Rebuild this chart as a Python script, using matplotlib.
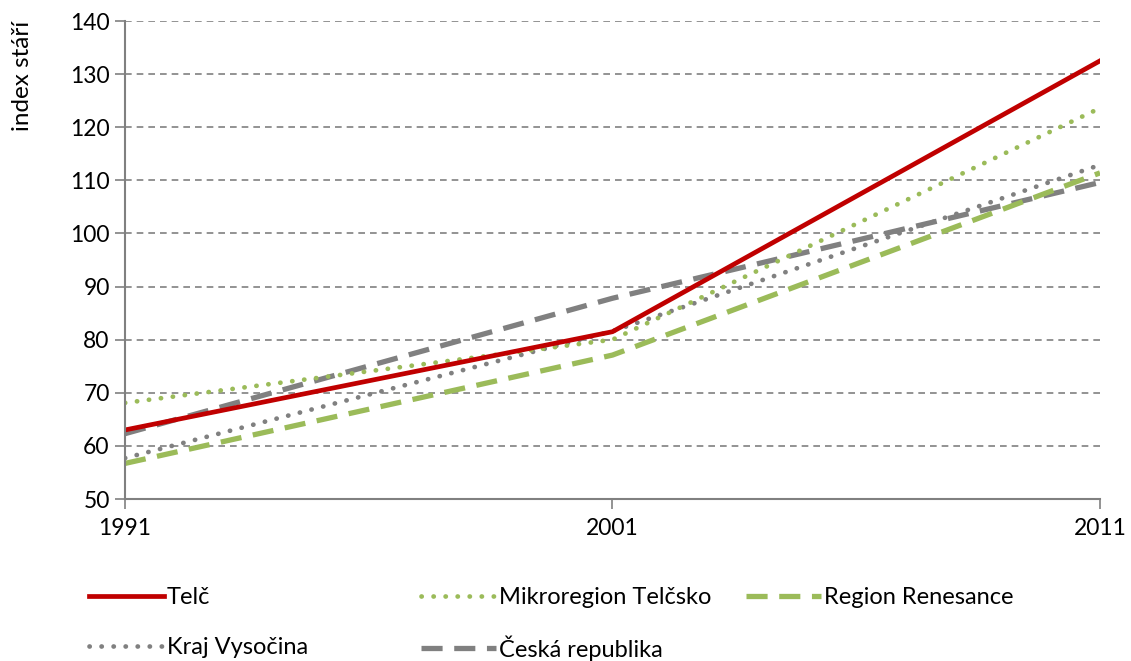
import matplotlib
matplotlib.use("Agg")
import matplotlib.pyplot as plt
from matplotlib.lines import Line2D

plt.rcParams['font.family'] = ['Lato', 'DejaVu Sans']

# data
years = [1991, 2001, 2011]
telc = [63.0, 81.5, 132.5]
mikroregion = [68.1, 80.0, 123.6]
renesance = [56.7, 77.1, 111.4]
vysocina = [57.7, 81.6, 112.9]
cr = [62.3, 87.8, 109.6]

red = '#C00000'
green = '#9BBB59'
grey = '#808080'

fig = plt.figure(figsize=(11.31, 6.61), dpi=100)
ax = fig.add_axes([125/1131, 1-499/661, (1100-125)/1131, (499-21)/661])

dot = (0, (0.05, 2.5))
dash = (4, 2.2)

ax.plot(years, cr, color=grey, lw=3.8, dashes=dash, label='Česká republika')
ax.plot(years, renesance, color=green, lw=3.8, dashes=dash, label='Region Renesance')
ax.plot(years, vysocina, color=grey, lw=3.4, ls=dot, dash_capstyle='round', label='Kraj Vysočina')
ax.plot(years, mikroregion, color=green, lw=3.4, ls=dot, dash_capstyle='round', label='Mikroregion Telčsko')
ax.plot(years, telc, color=red, lw=3.4, label='Telč')

ax.set_xlim(1991, 2011)
ax.set_ylim(50, 140)
ax.set_xticks(years)
ax.set_yticks(range(50, 141, 10))
ax.yaxis.grid(True, color=grey, ls=(0, (4, 3)), lw=1.2)
ax.set_axisbelow(True)
for s in ['top', 'right']:
    ax.spines[s].set_visible(False)
for s in ['left', 'bottom']:
    ax.spines[s].set_color(grey)
    ax.spines[s].set_linewidth(1.5)
ax.tick_params(axis='y', length=7, width=1.2, color=grey, labelsize=16.5, pad=4)
ax.tick_params(axis='x', length=7, width=1.2, color=grey, labelsize=16.5, pad=7)
ax.set_ylabel('index stáří', fontsize=17.5)
ax.yaxis.set_label_coords(-0.094, 0.885)

# legend entries placed one by one
entries = [
    ('Telč', dict(color=red, lw=3.4), 88, 598),
    ('Mikroregion Telčsko', dict(color=green, lw=3.4, ls=dot, dash_capstyle='round'), 420, 598),
    ('Region Renesance', dict(color=green, lw=3.8, dashes=dash), 745, 598),
    ('Kraj Vysočina', dict(color=grey, lw=3.4, ls=dot, dash_capstyle='round'), 88, 648),
    ('Česká republika', dict(color=grey, lw=3.8, dashes=dash), 420, 648),
]
for text, style, x, y in entries:
    h = Line2D([], [], **style)
    fig.legend([h], [text], loc='center left', bbox_to_anchor=(x/1131 - 0.018, 1 - y/661),
               frameon=False, fontsize=17, handlelength=3.2, handletextpad=0.1)

fig.savefig('out.png', dpi=100)
